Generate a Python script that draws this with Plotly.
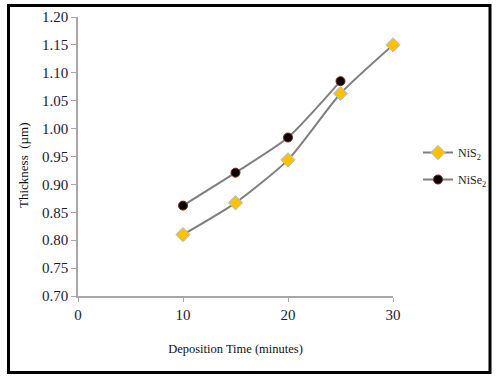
import plotly.graph_objects as go

time_min = [10, 15, 20, 25, 30]
nis2 = [0.810, 0.867, 0.944, 1.063, 1.150]
time_se = [10, 15, 20, 25]
nise2 = [0.862, 0.921, 0.984, 1.085]

x_ticks = [0, 10, 20, 30]
y_ticks = [0.70, 0.75, 0.80, 0.85, 0.90, 0.95, 1.00, 1.05, 1.10, 1.15, 1.20]

W, H = 499, 381
L, R, T, B = 78, 106, 17, 85
pw, ph = W - L - R, H - T - B

font_fam = "Liberation Serif, Times New Roman, serif"

fig = go.Figure()
fig.add_trace(go.Scatter(
    x=time_min, y=nis2, name="NiS<sub>2</sub>", mode="lines+markers",
    legendgroup="a", cliponaxis=False,
    line=dict(color="#7f7f7f", width=2, shape="spline", smoothing=0.6),
    marker=dict(symbol="diamond", size=11, color="#FFC000",
                line=dict(color="#9DC3E6", width=1)),
))
fig.add_trace(go.Scatter(
    x=time_se, y=nise2, name="NiSe<sub>2</sub>", mode="lines+markers",
    legendgroup="b", cliponaxis=False,
    line=dict(color="#7f7f7f", width=2, shape="spline", smoothing=0.6),
    marker=dict(symbol="circle", size=9, color="#000000",
                line=dict(color="#8B1A1A", width=1)),
))


def px_x(p):
    return (p - L) / pw


def px_y(p):
    return (H - B - p) / ph


fig.add_shape(type="rect", xref="paper", yref="paper",
              x0=px_x(8.5), x1=px_x(490), y0=px_y(372.5), y1=px_y(5.5),
              line=dict(color="#000000", width=3), fillcolor="rgba(0,0,0,0)")

fig.add_annotation(text="Thickness  (µm)", xref="paper", yref="paper",
                   x=px_x(23), y=px_y(166), textangle=-90, showarrow=False,
                   xanchor="center", yanchor="middle",
                   font=dict(size=13, family=font_fam, color="#111111"))

fig.update_layout(
    width=W, height=H,
    margin=dict(l=L, r=R, t=T, b=B, autoexpand=False),
    paper_bgcolor="white", plot_bgcolor="white",
    font=dict(family=font_fam, color="#1a1a33"),
    showlegend=True,
    legend=dict(x=px_x(418), y=px_y(138), xanchor="left", yanchor="top",
                font=dict(size=12, family=font_fam, color="#222222"),
                bgcolor="rgba(0,0,0,0)", tracegroupgap=8, itemwidth=30),
    xaxis=dict(range=[0, 30], tickvals=x_ticks, ticktext=[str(v) for v in x_ticks],
               showgrid=False, zeroline=False, showline=True, linecolor="#a6a6a6",
               linewidth=1.5, ticks="outside", ticklen=4, tickcolor="#a6a6a6",
               automargin=False,
               tickfont=dict(size=15, family=font_fam, color="#1a1a33"),
               title=dict(text="Deposition Time (minutes)", standoff=22,
                          font=dict(size=12.5, family=font_fam, color="#111111"))),
    yaxis=dict(range=[0.70, 1.20], tickvals=y_ticks,
               ticktext=[f"{v:.2f}" for v in y_ticks],
               showgrid=False, zeroline=False, showline=True, linecolor="#a6a6a6",
               linewidth=1.5, ticks="outside", ticklen=5, tickcolor="#a6a6a6",
               automargin=False,
               tickfont=dict(size=15, family=font_fam, color="#1a1a33")),
)

fig.write_html("out.html", config={"displayModeBar": False},
               post_script="document.body.style.margin='0';")
